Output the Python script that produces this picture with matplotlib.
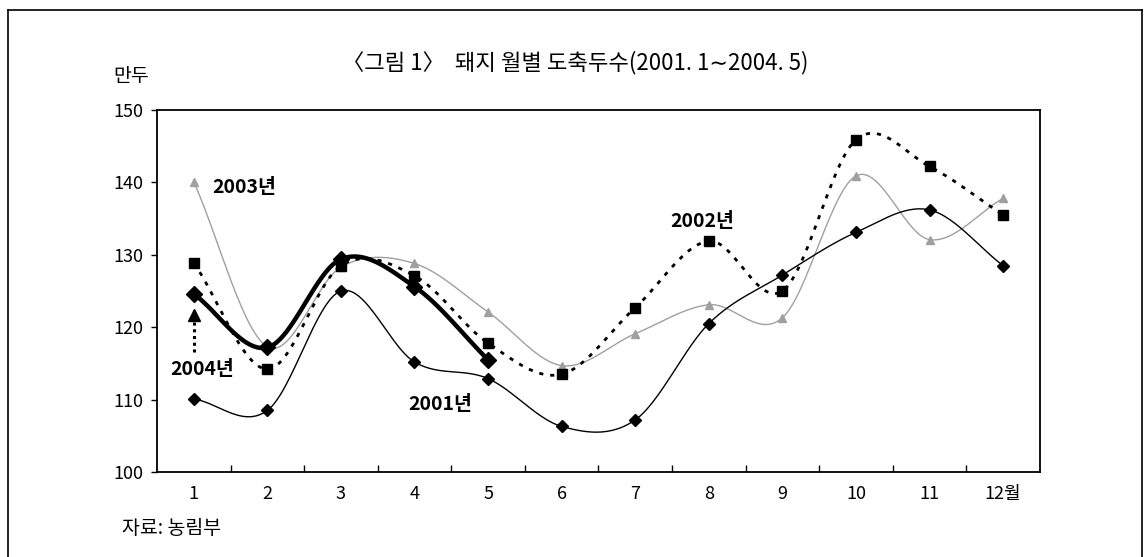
import numpy as np
import matplotlib
matplotlib.use("Agg")
import matplotlib.pyplot as plt
from matplotlib.lines import Line2D

plt.rcParams['font.family'] = ['Noto Sans CJK KR', 'DejaVu Sans']

# data (만두, monthly)
months = [1, 2, 3, 4, 5, 6, 7, 8, 9, 10, 11, 12]
month_labels = ['1', '2', '3', '4', '5', '6', '7', '8', '9', '10', '11', '12월']
y2001 = [110.1, 108.5, 125.0, 115.2, 112.9, 106.3, 107.2, 120.5, 127.2, 133.1, 136.2, 128.5]
y2002 = [128.9, 114.2, 128.5, 127.1, 117.8, 113.5, 122.7, 131.9, 125.0, 145.9, 142.2, 135.5]
y2003 = [140.1, 117.3, 128.3, 128.8, 122.1, 114.7, 119.1, 123.1, 121.3, 140.9, 132.1, 137.8]
y2004 = [124.6, 117.2, 129.4, 125.6, 115.5]


def smooth(xs, ys, n=30):
    # catmull-rom style curve through the points (like excel smoothed lines)
    xs = np.asarray(xs, float)
    ys = np.asarray(ys, float)
    px = np.concatenate([[2 * xs[0] - xs[1]], xs, [2 * xs[-1] - xs[-2]]])
    py = np.concatenate([[ys[0]], ys, [ys[-1]]])
    py[0] = ys[0] - (ys[1] - ys[0])
    py[-1] = ys[-1] + (ys[-1] - ys[-2])
    outx, outy = [], []
    t = np.linspace(0, 1, n)
    for i in range(1, len(px) - 2):
        for arr, out in ((px, outx), (py, outy)):
            p0, p1, p2, p3 = arr[i - 1], arr[i], arr[i + 1], arr[i + 2]
            m1 = (p2 - p0) / 2
            m2 = (p3 - p1) / 2
            h00 = 2 * t**3 - 3 * t**2 + 1
            h10 = t**3 - 2 * t**2 + t
            h01 = -2 * t**3 + 3 * t**2
            h11 = t**3 - t**2
            out.extend(h00 * p1 + h10 * m1 + h01 * p2 + h11 * m2)
    return np.array(outx), np.array(outy)


fig = plt.figure(figsize=(11.44, 5.57), dpi=100)
ax = fig.add_axes([0.1372, 0.1526, 0.7718, 0.6499])

# 2003 - light gray, triangles
sx, sy = smooth(months, y2003)
ax.plot(sx, sy, color='#a0a0a0', lw=1.0, zorder=2)
ax.plot(months, y2003, ls='none', marker='^', ms=6, color='#a0a0a0', zorder=3)

# 2002 - dotted black, squares
sx, sy = smooth(months, y2002)
ax.plot(sx, sy, color='black', lw=2.0, ls=(0, (1.5, 2.5)), zorder=3)
ax.plot(months, y2002, ls='none', marker='s', ms=7, color='black', zorder=4)

# 2001 - thin black, diamonds
sx, sy = smooth(months, y2001)
ax.plot(sx, sy, color='black', lw=1.0, zorder=4)
ax.plot(months, y2001, ls='none', marker='D', ms=6, color='black', zorder=5)

# 2004 - thick black, diamonds
sx, sy = smooth(months[:5], y2004)
ax.plot(sx, sy, color='black', lw=3.2, zorder=5)
ax.plot(months[:5], y2004, ls='none', marker='D', ms=8, color='black', zorder=6)

ax.set_xlim(0.5, 12.5)
ax.set_ylim(100, 150)
ax.set_yticks([100, 110, 120, 130, 140, 150])
ax.set_xticks(months)
ax.set_xticklabels(month_labels)
ax.set_xticks(np.arange(1.5, 12.5, 1), minor=True)
ax.tick_params(axis='x', which='major', length=0, pad=9, labelsize=13)
ax.tick_params(axis='x', which='minor', direction='in', length=5, width=1)
ax.tick_params(axis='y', which='major', direction='out', length=4, width=1, labelsize=13, pad=6)
for s in ax.spines.values():
    s.set_linewidth(1.3)
    s.set_color('black')

# series labels
lab = dict(fontsize=14, fontweight='bold', color='black')
ax.text(1.25, 138.6, '2003년', **lab)
ax.text(0.68, 113.4, '2004년', **lab)
ax.text(3.92, 108.6, '2001년', **lab)
ax.text(7.48, 133.8, '2002년', **lab)

# dotted arrow for 2004 label
ax.plot([1, 1], [116.6, 121.0], color='black', lw=2.2, ls=(0, (1, 1.2)), zorder=6)
ax.plot([1], [121.7], marker='^', ms=8, color='black', zorder=6)

fig.text(0.503, 0.888, '〈그림 1〉  돼지 월별 도축두수(2001. 1∼2004. 5)', ha='center', va='center',
         fontsize=16)
fig.text(0.099, 0.862, '만두', ha='left', va='center', fontsize=14)
fig.text(0.107, 0.052, '자료: 농림부', ha='left', va='center', fontsize=14)

# outer border
fig.add_artist(Line2D([0.007, 0.007], [0.0, 0.982], color='black', lw=1.2))
fig.add_artist(Line2D([0.007, 0.9983], [0.982, 0.982], color='black', lw=1.2))
fig.add_artist(Line2D([0.9983, 0.9983], [0.0, 0.982], color='black', lw=1.2))

fig.savefig('out.png', dpi=100)
